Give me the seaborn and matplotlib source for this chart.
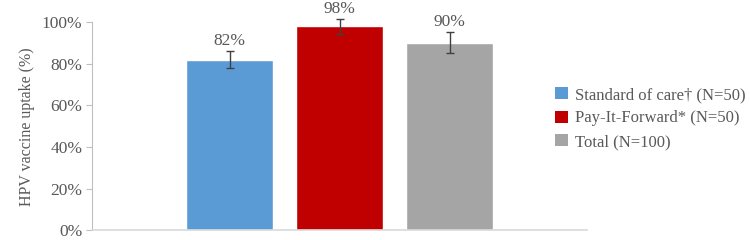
import seaborn as sns
import matplotlib.pyplot as plt
import pandas as pd
from matplotlib.ticker import PercentFormatter
from matplotlib.patches import Patch

groups = ['Standard of care\u2020 (N=50)', 'Pay-It-Forward* (N=50)', 'Total (N=100)']
uptake = [82, 98, 90]
err = [4, 3.5, 5]
colors = ['#5B9BD5', '#C00000', '#A5A5A5']

df = pd.DataFrame({'group': groups, 'uptake': uptake})

sns.set_style('white')
plt.rcParams['font.family'] = ['Liberation Serif', 'DejaVu Serif']
text_col = '#595959'

fig = plt.figure(figsize=(7.5, 2.4), dpi=100)
ax = fig.add_axes([0.1227, 0.04, 0.66, 0.868])

sns.barplot(x='group', y='uptake', data=df, hue='group', palette=colors,
            order=groups, hue_order=groups, width=0.79, dodge=False,
            saturation=1, legend=False, ax=ax, errorbar=None)

eb = ax.errorbar(range(len(groups)), uptake, yerr=err, fmt='none',
                 ecolor='#404040', elinewidth=1, capsize=3, capthick=1)
for art in eb.lines[1] + eb.lines[2]:
    art.set_clip_on(False)

for i, (v, e) in enumerate(zip(uptake, err)):
    ax.annotate(f'{v}%', (i, v + e), xytext=(0, 1.5), textcoords='offset points',
                ha='center', va='bottom', fontsize=12.5, color=text_col,
                annotation_clip=False)

ax.set_xlim(-1.25, 3.25)
ax.set_ylim(0, 100)
ax.set_yticks([0, 20, 40, 60, 80, 100])
ax.yaxis.set_major_formatter(PercentFormatter(decimals=0))
ax.set_xticks([])
ax.set_xlabel('')
ax.set_ylabel('HPV vaccine uptake (%)', fontsize=11.5, color=text_col, labelpad=5)
ax.tick_params(axis='y', labelsize=12.5, labelcolor=text_col, left=True,
               length=4, width=0.8, color='#BFBFBF', pad=3)

for s in ['top', 'right']:
    ax.spines[s].set_visible(False)
ax.spines['left'].set_color('#BFBFBF')
ax.spines['bottom'].set_color('#D9D9D9')
ax.spines['left'].set_linewidth(0.8)
ax.spines['bottom'].set_linewidth(1.2)

handles = [Patch(facecolor=c, edgecolor='none') for c in colors]
fig.legend(handles, groups, loc='upper left', bbox_to_anchor=(0.72, 0.7),
           frameon=False, fontsize=12, labelcolor=text_col,
           handlelength=0.75, handleheight=0.75, handletextpad=0.45,
           labelspacing=0.45)

fig.savefig('out.png', dpi=100)
